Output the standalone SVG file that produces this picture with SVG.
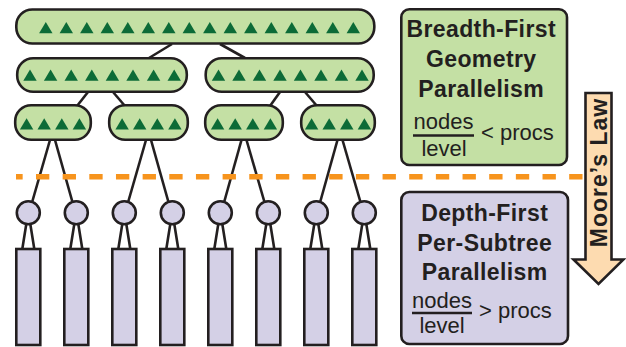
<svg xmlns="http://www.w3.org/2000/svg" xmlns:xlink="http://www.w3.org/1999/xlink" width="626" height="347" viewBox="0 0 626 347">
<style>
.g{fill:#c4e0a4;stroke:#231f20;stroke-width:2.6}
.p{fill:#d4d0e6;stroke:#231f20;stroke-width:2.6}
.ln{stroke:#231f20;stroke-width:2.6;fill:none}
.h{font-family:"Liberation Sans",Arial,sans-serif;font-weight:bold;font-size:23px;fill:#231f20;text-anchor:middle;letter-spacing:0.4px}
.f{font-family:"Liberation Sans",Arial,sans-serif;font-size:22px;fill:#231f20}
.fm{text-anchor:middle}
</style>
<defs>
<path id="tri" d="M0,-5.7 L6.7,5.5 L-6.7,5.5Z" fill="#0c6b37"/>
</defs>
<g id="connectors" class="ln">
<line x1="172" y1="44" x2="149" y2="58"/>
<line x1="220" y1="44" x2="245" y2="58"/>
<line x1="88" y1="92" x2="77" y2="106"/>
<line x1="113" y1="92" x2="125" y2="106"/>
<line x1="280" y1="92" x2="270" y2="106"/>
<line x1="305" y1="92" x2="317" y2="106"/>
<line x1="50" y1="140" x2="32.3" y2="201.5"/>
<line x1="55" y1="140" x2="72.3" y2="201.5"/>
<line x1="146" y1="140" x2="128.3" y2="201.5"/>
<line x1="151" y1="140" x2="168.3" y2="201.5"/>
<line x1="241.5" y1="140" x2="224.3" y2="201.5"/>
<line x1="246.5" y1="140" x2="264.3" y2="201.5"/>
<line x1="337.5" y1="140" x2="320.3" y2="201.5"/>
<line x1="342.5" y1="140" x2="360.3" y2="201.5"/>
<path d="M26.3,224 L22.3,249 M30.3,224 L34.3,249"/>
<path d="M74.3,224 L70.3,249 M78.3,224 L82.3,249"/>
<path d="M122.3,224 L118.3,249 M126.3,224 L130.3,249"/>
<path d="M170.3,224 L166.3,249 M174.3,224 L178.3,249"/>
<path d="M218.3,224 L214.3,249 M222.3,224 L226.3,249"/>
<path d="M266.3,224 L262.3,249 M270.3,224 L274.3,249"/>
<path d="M314.3,224 L310.3,249 M318.3,224 L322.3,249"/>
<path d="M362.3,224 L358.3,249 M366.3,224 L370.3,249"/>
</g>
<line id="divider" x1="16" y1="176.7" x2="583" y2="176.7" stroke="#f7941d" stroke-width="5.5" stroke-dasharray="13.33 13.33" stroke-dashoffset="6.67"/>
<g id="n-root">
<rect class="g" x="16.3" y="9.5" width="358" height="34" rx="16"/>
<use href="#tri" x="45.8" y="27.8"/><use href="#tri" x="66.3" y="27.8"/><use href="#tri" x="86.8" y="27.8"/><use href="#tri" x="107.3" y="27.8"/>
<use href="#tri" x="127.8" y="27.8"/><use href="#tri" x="148.3" y="27.8"/><use href="#tri" x="168.8" y="27.8"/><use href="#tri" x="189.3" y="27.8"/>
<use href="#tri" x="209.8" y="27.8"/><use href="#tri" x="230.3" y="27.8"/><use href="#tri" x="250.8" y="27.8"/><use href="#tri" x="271.3" y="27.8"/>
<use href="#tri" x="291.8" y="27.8"/><use href="#tri" x="312.3" y="27.8"/><use href="#tri" x="332.8" y="27.8"/><use href="#tri" x="353.3" y="27.8"/>
</g>
<g id="n-l2a">
<rect class="g" x="17.2" y="58.2" width="169.6" height="33.6" rx="16"/>
<use href="#tri" x="30" y="75.2"/><use href="#tri" x="50.6" y="75.2"/><use href="#tri" x="71.2" y="75.2"/><use href="#tri" x="91.8" y="75.2"/>
<use href="#tri" x="112.4" y="75.2"/><use href="#tri" x="133" y="75.2"/><use href="#tri" x="153.6" y="75.2"/><use href="#tri" x="174.2" y="75.2"/>
</g>
<g id="n-l2b">
<rect class="g" x="205.7" y="58.2" width="168" height="33.6" rx="16"/>
<use href="#tri" x="218.5" y="75.2"/><use href="#tri" x="239" y="75.2"/><use href="#tri" x="259.5" y="75.2"/><use href="#tri" x="280" y="75.2"/>
<use href="#tri" x="300.5" y="75.2"/><use href="#tri" x="321" y="75.2"/><use href="#tri" x="341.5" y="75.2"/><use href="#tri" x="362" y="75.2"/>
</g>
<g id="n-l3a">
<rect class="g" x="15.2" y="105.2" width="75.6" height="34.6" rx="16"/>
<use href="#tri" x="26.6" y="124"/><use href="#tri" x="44.2" y="124"/><use href="#tri" x="61.8" y="124"/><use href="#tri" x="79.4" y="124"/>
</g>
<g id="n-l3b">
<rect class="g" x="109.2" y="105.2" width="78.6" height="34.6" rx="16"/>
<use href="#tri" x="122.1" y="124"/><use href="#tri" x="139.7" y="124"/><use href="#tri" x="157.3" y="124"/><use href="#tri" x="174.9" y="124"/>
</g>
<g id="n-l3c">
<rect class="g" x="205.2" y="105.2" width="77.6" height="34.6" rx="16"/>
<use href="#tri" x="217.6" y="124"/><use href="#tri" x="235.2" y="124"/><use href="#tri" x="252.8" y="124"/><use href="#tri" x="270.4" y="124"/>
</g>
<g id="n-l3d">
<rect class="g" x="301.2" y="105.2" width="73.6" height="34.6" rx="16"/>
<use href="#tri" x="311.6" y="124"/><use href="#tri" x="329.2" y="124"/><use href="#tri" x="346.8" y="124"/><use href="#tri" x="364.4" y="124"/>
</g>
<g id="n-leaf1"><circle class="p" cx="28.3" cy="212.8" r="11.5"/><rect class="p" x="16.3" y="249" width="24" height="96"/></g>
<g id="n-leaf2"><circle class="p" cx="76.3" cy="212.8" r="11.5"/><rect class="p" x="64.3" y="249" width="24" height="96"/></g>
<g id="n-leaf3"><circle class="p" cx="124.3" cy="212.8" r="11.5"/><rect class="p" x="112.3" y="249" width="24" height="96"/></g>
<g id="n-leaf4"><circle class="p" cx="172.3" cy="212.8" r="11.5"/><rect class="p" x="160.3" y="249" width="24" height="96"/></g>
<g id="n-leaf5"><circle class="p" cx="220.3" cy="212.8" r="11.5"/><rect class="p" x="208.3" y="249" width="24" height="96"/></g>
<g id="n-leaf6"><circle class="p" cx="268.3" cy="212.8" r="11.5"/><rect class="p" x="256.3" y="249" width="24" height="96"/></g>
<g id="n-leaf7"><circle class="p" cx="316.3" cy="212.8" r="11.5"/><rect class="p" x="304.3" y="249" width="24" height="96"/></g>
<g id="n-leaf8"><circle class="p" cx="364.3" cy="212.8" r="11.5"/><rect class="p" x="352.3" y="249" width="24" height="96"/></g>
<g id="breadth-box">
<rect class="g" x="401.3" y="9.3" width="165.7" height="155.7" rx="8"/>
<text class="h" x="481.2" y="37">Breadth-First</text>
<text class="h" x="481.2" y="67">Geometry</text>
<text class="h" x="481.2" y="97">Parallelism</text>
<text class="f fm" x="443.5" y="129">nodes</text>
<line x1="413" y1="135.5" x2="474" y2="135.5" stroke="#231f20" stroke-width="2.5"/>
<text class="f fm" x="444" y="156">level</text>
<text class="f" x="481" y="140">&lt; procs</text>
</g>
<g id="depth-box">
<rect class="p" x="401.3" y="192" width="166.7" height="152" rx="8"/>
<text class="h" x="484.7" y="221">Depth-First</text>
<text class="h" x="484.7" y="251">Per-Subtree</text>
<text class="h" x="484.7" y="280">Parallelism</text>
<text class="f fm" x="442" y="307.5">nodes</text>
<line x1="412" y1="313" x2="472" y2="313" stroke="#231f20" stroke-width="2.5"/>
<text class="f fm" x="442" y="333">level</text>
<text class="f" x="479" y="318">&gt; procs</text>
</g>
<g id="moores-law">
<polygon points="585.5,93 611.5,93 611.5,259.5 623.5,259.5 598.5,284 573.5,259.5 585.5,259.5" fill="#fddbb0" stroke="#231f20" stroke-width="2.6" stroke-linejoin="miter"/>
<text class="h" transform="translate(606.5,172.5) rotate(-90)" x="0" y="0" style="letter-spacing:1px">Moore’s Law</text>
</g>
</svg>
